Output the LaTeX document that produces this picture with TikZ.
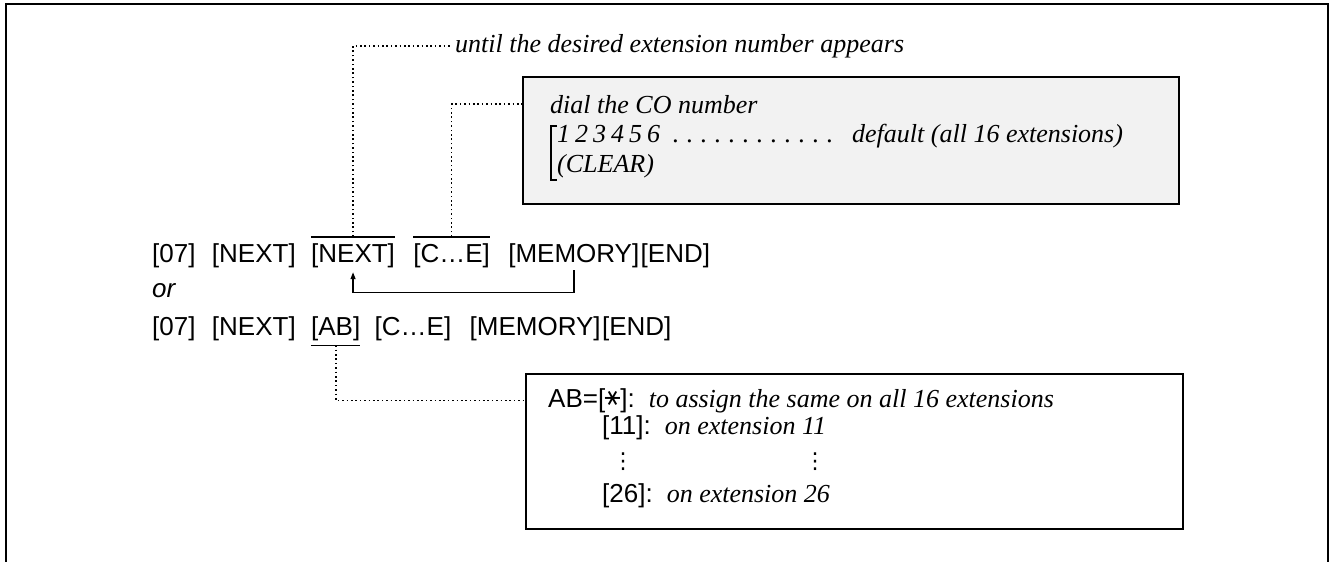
\documentclass[tikz,border=0pt]{standalone}
\usepackage{fontspec}
\usepackage{graphicx}
\setmainfont{Liberation Serif}
\setsansfont{Liberation Sans}
\newfontfamily\dejavu{DejaVu Sans}
\usetikzlibrary{positioning,calc,arrows.meta}
\begin{document}
\begin{tikzpicture}[x=1pt,y=-1pt,
  tok/.style={font=\fontsize{26pt}{30pt}\selectfont\sffamily, inner sep=0pt, text height=19pt, text depth=6pt},
  itx/.style={font=\fontsize{26pt}{30pt}\selectfont\rmfamily\itshape, inner sep=0pt},
  mix/.style={font=\fontsize{26pt}{30pt}\selectfont\sffamily, inner sep=0pt},
  dots/.style={line width=1.6pt, dash pattern=on 1.6pt off 2.8pt},
  frameline/.style={line width=2.2pt},
  bx/.style={draw, line width=2pt, inner sep=0pt},
  link/.style={line width=1.4pt}
]
\useasboundingbox (0,0) rectangle (1331,562);
\draw[frameline] (6,562) -- (6,4) -- (1328,4) -- (1328,562);

% line 1
\node[tok, anchor=base west] (a1) at (152,262) {[07]};
\node[tok, right=16pt of a1] (a2) {[NEXT]};
\node[tok, right=15pt of a2] (a3) {[NEXT]};
\node[tok, right=18pt of a3] (a4) {[C…E]};
\node[tok, right=18pt of a4] (a5) {[MEMORY]};
\node[tok, right=1pt of a5] (a6) {[END]};
% or
\node[font=\fontsize{26pt}{30pt}\selectfont\sffamily\itshape, inner sep=0pt, anchor=base west] (or) at (152,297) {or};
% line 2
\node[tok, anchor=base west] (b1) at (152,335) {[07]};
\node[tok, right=16pt of b1] (b2) {[NEXT]};
\node[tok, right=15pt of b2] (b3) {[AB]};
\node[tok, right=14pt of b3] (b4) {[C…E]};
\node[tok, right=18pt of b4] (b5) {[MEMORY]};
\node[tok, right=1pt of b5] (b6) {[END]};

% over/under lines
\draw[link] ([yshift=6pt]a3.north west) -- ([yshift=6pt]a3.north east);
\draw[link] ([yshift=6pt]a4.north west) -- ([yshift=6pt]a4.north east);
\draw[link] ([yshift=-4pt]b3.south west) -- ([yshift=-4pt]b3.south east);
\coordinate (a3top) at ([yshift=6pt]a3.north);
\coordinate (a4top) at ([yshift=6pt]a4.north);
\coordinate (b3bot) at ([yshift=-4pt]b3.south);

% loop arrow
\draw[link, -{Triangle[length=7pt,width=5pt]}] ([yshift=-2pt]a5.south) -- ++(0,22) -| ([yshift=-4pt]a3.south);

% top label
\node[itx, anchor=base west] (toplabel) at (455,52) {until the desired extension number appears};
\draw[dots] (a3top) |- ([xshift=-3pt]toplabel.west);

% CO box
\node[bx, fill=black!5, minimum width=656pt, minimum height=127pt, anchor=north west] (cobox) at (522,76) {};
\node[itx, anchor=base west] (co1) at (550,113) {dial the CO number};
\node[itx, anchor=base west] (co2) at (557,142) {1\kern5pt 2\kern5pt 3\kern5pt 4\kern5pt 5\kern5pt 6\leaders\hbox to 14pt{\hss.\hss}\hskip 180pt\relax\kern12pt default (all 16 extensions)};
\node[itx, anchor=base west] (co3) at (557,172) {(CLEAR)};
\draw[line width=1.3pt] (557,126) -- (551,126) -- (551,180) -- (557,180);
\draw[dots] (a4top) |- (cobox.west |- co1.west);

% AB box
\node[bx, minimum width=657pt, minimum height=155pt, anchor=north west] (abbox) at (525,373) {};
\node[mix, anchor=base west] (ab1) at (548,407) {AB=[\raisebox{1pt}{\rotatebox[origin=c]{90}{\dejavu\fontsize{24pt}{26pt}\selectfont ∗}}]:\hspace{14pt}{\rmfamily\itshape to assign the same on all 16 extensions}};
\node[mix, anchor=base west] (ab2) at (602,434) {[11]:\hspace{14pt}{\rmfamily\itshape on extension 11}};
\node[font=\fontsize{22pt}{26pt}\selectfont\dejavu, inner sep=0pt] (abv1) at (623,462) {⋮};
\node[font=\fontsize{22pt}{26pt}\selectfont\dejavu, inner sep=0pt] (abv2) at (815,462) {⋮};
\node[mix, anchor=base west] (ab4) at (602,502) {[26]:\hspace{14pt}{\rmfamily\itshape on extension 26}};
\draw[dots] (b3bot) |- (abbox.west |- ab1.west);
\end{tikzpicture}
\end{document}
